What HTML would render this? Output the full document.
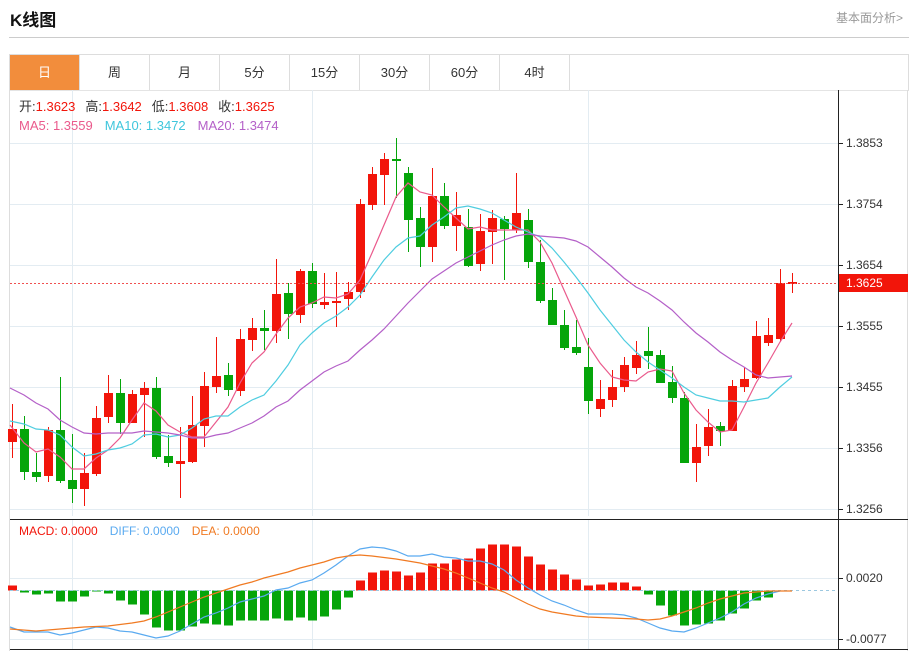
<!DOCTYPE html>
<html><head><meta charset="utf-8"><style>
body{margin:0;background:#fff;width:915px;height:651px;overflow:hidden;font-family:"Liberation Sans","Noto Sans CJK SC",sans-serif;position:relative}
.t{position:absolute;left:10px;top:6px;font-size:17px;font-weight:bold;color:#111}
.r{position:absolute;right:12px;top:9px;font-size:12px;color:#999}
.hr{position:absolute;left:9px;top:37px;width:900px;height:1px;background:#ccc}
.tabs{position:absolute;left:9px;top:54px;width:898px;height:35px;border:1px solid #ddd;border-bottom:1px solid #e4e4e4}
.tab{position:absolute;top:0;height:35px;width:69px;border-right:1px solid #ddd;text-align:center;line-height:35px;font-size:13px;color:#333}
svg{position:absolute;left:0;top:0}
</style></head><body>
<div class="t">K线图</div><div class="r">基本面分析&gt;</div><div class="hr"></div>
<div class="tabs">
<div class="tab" style="left:0;background:#f28d3c;color:#fff">日</div>
<div class="tab" style="left:70px">周</div><div class="tab" style="left:140px">月</div>
<div class="tab" style="left:210px">5分</div><div class="tab" style="left:280px">15分</div>
<div class="tab" style="left:350px">30分</div><div class="tab" style="left:420px">60分</div>
<div class="tab" style="left:490px">4时</div></div>
<svg id="s" width="915" height="651" xmlns="http://www.w3.org/2000/svg" font-family="Liberation Sans, Noto Sans CJK SC, sans-serif"></svg>
<script>
var s=document.getElementById('s'),h='';
function L(x1,y1,x2,y2,c,w,d){h+='<line x1="'+x1+'" y1="'+y1+'" x2="'+x2+'" y2="'+y2+'" stroke="'+c+'" stroke-width="'+(w||1)+'"'+(d?' stroke-dasharray="'+d+'"':'')+'/>';}
function T(x,y,t,c,sz){h+='<text x="'+x+'" y="'+y+'" fill="'+c+'" font-size="'+(sz||12)+'">'+t+'</text>';}
// frame
L(9.5,90,9.5,651,'#ddd');L(907.5,90,907.5,651,'#ddd');
[72.5,312.5,588.5].forEach(x=>{L(x,90,x,516,'#e3ecf2');L(x,519,x,649,'#e3ecf2');});
[143,204,265,326,387,448,509].forEach(y=>L(10,y+.5,838,y+.5,'#e3ecf2'));
[578,639].forEach(y=>L(10,y+.5,838,y+.5,'#e3ecf2'));
L(838.5,90,838.5,649,'#222');L(10,519.5,908,519.5,'#222');L(10,649.5,908,649.5,'#222');
var tk=[[143,'1.3853'],[204,'1.3754'],[265,'1.3654'],[326,'1.3555'],[387,'1.3455'],[448,'1.3356'],[509,'1.3256']];
tk.forEach(a=>{L(838,a[0]+.5,843,a[0]+.5,'#222');T(846,a[0]+4,a[1],'#333');});
[[578,'0.0020'],[639,'-0.0077']].forEach(a=>{L(838,a[0]+.5,843,a[0]+.5,'#222');T(846,a[0]+4,a[1],'#333');});
// candles [top,bottom,high,low,up]
var C=[[429,442,404,458,1],[429,472,416,480,0],[472,477,453,482,0],[430,476,427,482,1],[430,481,377,483,0],[480,489,434,503,0],[473,489,453,506,1],[418,474,406,476,1],[393,417,375,423,1],[393,423,379,434,0],[394,423,390,423,1],[388,395,382,437,1],[388,457,377,459,0],[456,463,435,467,0],[461,464,427,498,1],[425,462,396,463,1],[386,426,372,447,1],[376,387,337,393,1],[375,390,363,396,0],[339,391,329,396,1],[328,340,318,351,1],[328,331,310,350,0],[294,331,259,343,1],[293,314,283,339,0],[271,315,269,323,1],[271,304,263,308,0],[302,305,273,309,1],[301,303,272,327,1],[292,299,282,310,1],[204,292,199,298,1],[174,205,167,210,1],[159,175,153,205,1],[159,161,138,198,0],[173,220,167,252,0],[218,247,207,267,0],[196,247,168,262,1],[196,226,183,229,0],[215,226,192,251,1],[227,266,209,267,0],[231,264,214,271,1],[218,232,210,264,1],[219,229,216,280,0],[213,230,173,233,1],[220,262,209,268,0],[262,301,240,303,0],[300,325,288,325,0],[325,348,310,350,0],[347,353,320,355,0],[367,401,338,414,0],[399,409,380,417,1],[387,400,370,407,1],[365,387,357,392,1],[355,368,341,374,1],[351,356,327,369,0],[355,383,350,383,0],[382,398,366,403,0],[398,463,392,463,0],[447,463,424,482,1],[427,446,409,456,1],[426,431,422,446,0],[386,431,380,431,1],[379,387,367,392,1],[336,378,321,379,1],[335,343,318,346,1],[283,339,269,342,1],[282,284,273,293,1]];
var R='#f2150a',G='#05a50a';
C.forEach((c,i)=>{var x=12+12*i,col=c[4]?R:G;L(x+.5,c[2],x+.5,c[3],col);h+='<rect x="'+(x-4)+'" y="'+c[0]+'" width="9" height="'+Math.max(2,c[1]-c[0])+'" fill="'+col+'"/>';});
function P(pts,c){h+='<polyline fill="none" stroke="'+c+'" stroke-width="1.2" points="'+pts.map(p=>p.join(',')).join(' ')+'"/>';}
P([[10,425],[24,443],[36,452],[48,449],[60,457],[72,469],[84,469],[96,458],[108,450],[120,438],[132,420],[144,403],[156,411],[168,425],[180,432],[192,437],[204,437],[216,422],[228,407],[240,383],[252,363],[264,352],[276,334],[288,318],[300,307],[312,303],[324,297],[336,298],[348,294],[360,280],[372,253],[384,225],[396,197],[408,183],[420,192],[432,195],[444,207],[456,218],[468,229],[480,227],[492,230],[504,230],[516,230],[528,230],[540,242],[552,263],[564,290],[576,317],[588,345],[600,363],[612,377],[624,380],[636,381],[648,372],[660,369],[672,371],[684,393],[696,410],[708,422],[720,432],[732,430],[744,407],[756,383],[768,363],[780,342],[792,323]],'#ea5a8c');
P([[10,421],[24,424],[36,429],[48,430],[60,435],[72,447],[84,456],[96,454],[108,450],[120,448],[132,444],[144,435],[156,434],[168,437],[180,435],[192,428],[204,419],[216,416],[228,416],[240,407],[252,400],[264,395],[276,381],[288,365],[300,345],[312,333],[324,323],[336,316],[348,307],[360,295],[372,277],[384,260],[396,247],[408,238],[420,236],[432,225],[444,217],[456,208],[468,206],[480,209],[492,213],[504,220],[516,227],[528,232],[540,237],[552,248],[564,262],[576,277],[588,293],[600,310],[612,325],[624,340],[636,352],[648,362],[660,370],[672,378],[684,387],[696,395],[708,398],[720,401],[732,401],[744,402],[756,400],[768,398],[780,387],[792,377]],'#4fcde0');
P([[10,388],[24,395],[36,403],[48,409],[60,420],[72,427],[84,433],[96,434],[108,433],[120,433],[132,433],[144,431],[156,432],[168,433],[180,435],[192,438],[204,438],[216,435],[228,433],[240,428],[252,423],[264,416],[276,407],[288,401],[300,390],[312,381],[324,372],[336,366],[348,361],[360,350],[372,340],[384,329],[396,316],[408,303],[420,291],[432,279],[444,271],[456,263],[468,257],[480,251],[492,245],[504,240],[516,236],[528,234],[540,236],[552,237],[564,238],[576,241],[588,247],[600,257],[612,267],[624,278],[636,287],[648,293],[660,301],[672,310],[684,322],[696,333],[708,342],[720,352],[732,360],[744,367],[756,375],[768,378],[780,377],[792,376]],'#b460c8');
L(10,283.5,838,283.5,'#f05050',1,'2,2');
h+='<rect x="839" y="274" width="69" height="18" fill="#f2150a"/>';T(846,287,'1.3625','#fff');
// MACD
var M=[5,-2,-4,-3,-11,-11,-6,-1,-3,-10,-14,-24,-37,-40,-40,-36,-33,-34,-35,-30,-30,-30,-28,-30,-27,-30,-26,-19,-7,10,18,20,19,15,18,27,27,31,32,42,46,46,44,34,26,21,16,11,5,6,8,8,4,-4,-15,-25,-35,-34,-33,-30,-23,-18,-10,-7,-1,0];
var z=590.5;
M.forEach((v,i)=>{if(!v)return;var x=12+12*i;h+='<rect x="'+(x-4)+'" y="'+(v>0?z-v:z)+'" width="9" height="'+Math.abs(v)+'" fill="'+(v>0?R:G)+'"/>';});
L(10,z,838,z,'#9cc8e0',1,'3,3');
P([[10,627],[24,632],[48,632],[60,635],[72,633],[96,627],[108,628],[120,631],[132,632],[144,635],[156,638],[168,636],[180,631],[192,624],[204,617],[216,613],[228,608],[240,602],[252,599],[264,596],[276,590],[288,588],[300,583],[312,580],[324,573],[336,565],[348,556],[360,549],[372,547],[384,548],[396,551],[408,556],[420,556],[432,554],[444,557],[456,558],[468,561],[480,561],[492,564],[504,570],[516,580],[528,588],[540,595],[552,601],[564,605],[576,610],[588,614],[600,614],[612,614],[624,615],[636,618],[648,623],[660,628],[672,631],[684,632],[696,628],[708,623],[720,618],[732,612],[744,604],[756,598],[768,594],[780,591]],'#5aaaf0');
P([[10,629],[36,631],[60,629],[84,627],[108,626],[132,623],[144,621],[156,617],[168,612],[180,607],[192,602],[204,597],[216,593],[228,589],[240,585],[252,582],[264,578],[276,575],[288,572],[300,568],[312,565],[324,562],[336,558],[348,556],[360,555],[372,556],[396,559],[420,563],[444,569],[456,573],[468,578],[480,583],[492,588],[504,592],[516,598],[528,604],[540,609],[552,612],[564,614],[576,616],[588,617],[612,618],[636,619],[648,620],[660,619],[672,616],[684,612],[696,608],[708,603],[720,599],[732,596],[744,593],[756,592],[768,591],[780,591],[792,591]],'#f07a22');
// legends
h+='<text x="19" y="111" font-size="13"><tspan fill="#333">开:</tspan><tspan fill="#f2150a">1.3623</tspan><tspan fill="#333" dx="10">高:</tspan><tspan fill="#f2150a">1.3642</tspan><tspan fill="#333" dx="10">低:</tspan><tspan fill="#f2150a">1.3608</tspan><tspan fill="#333" dx="10">收:</tspan><tspan fill="#f2150a">1.3625</tspan></text>';
h+='<text x="19" y="130" font-size="13"><tspan fill="#ea5a8c">MA5: 1.3559</tspan><tspan fill="#3fc6dc" dx="12">MA10: 1.3472</tspan><tspan fill="#b460c8" dx="12">MA20: 1.3474</tspan></text>';
h+='<text x="19" y="535" font-size="12"><tspan fill="#f2150a">MACD: 0.0000</tspan><tspan fill="#5aaaf0" dx="12">DIFF: 0.0000</tspan><tspan fill="#f07a22" dx="12">DEA: 0.0000</tspan></text>';
s.innerHTML=h;
</script>
</body></html>
